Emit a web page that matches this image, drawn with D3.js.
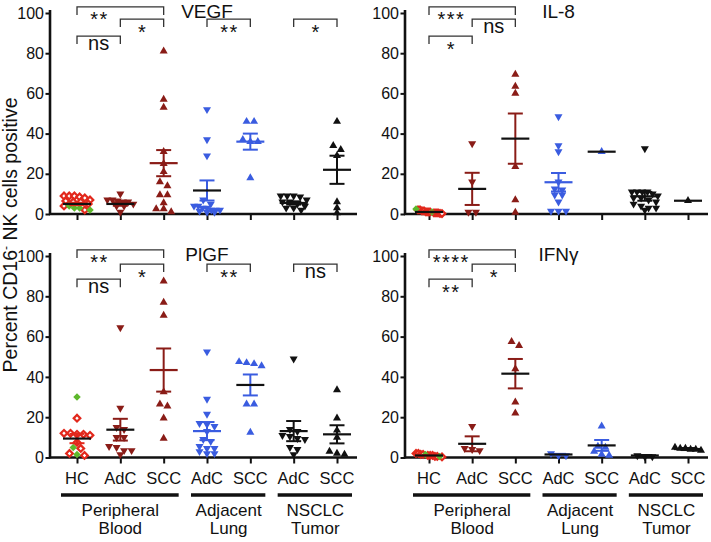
<!DOCTYPE html>
<html><head><meta charset="utf-8">
<script src="https://cdn.jsdelivr.net/npm/d3@7"></script>
<style>
body{margin:0;background:#fff}
svg{display:block;font-family:"Liberation Sans",Arial,sans-serif}
</style>
</head><body>
<svg id="c" width="711" height="542"></svg>
<script>
// ---------------- DATA ----------------
const categories = ["HC","AdC","SCC","AdC","SCC","AdC","SCC"];
const groupNames = [["Peripheral","Blood"],["Adjacent","Lung"],["NSCLC","Tumor"]];
const groupSpans = [[0,2],[3,4],[5,6]];
const yTicks = [0,20,40,60,80,100];
const bracketLevelsTop = [103, 97, 88.5];
const bracketLevelsBottom = [103, 96, 88.5];

// VEGF
const vegfHCgreen = [4, 3, 3, 2];
const vegfValues = [
  [9, 9, 9, 8.5, 8, 7, 6.5, 6, 6, 5, 4, 2],
  [10, 7, 7, 6.5, 6, 6, 5, 4, 4, 1],
  [81, 57, 53, 31, 25, 21, 16, 14, 9.5, 9.5, 5.5, 2.5, 2.5, 1],
  [52, 37, 29, 7, 5, 4, 4, 3, 3, 2, 2, 2, 1.5, 1, 1],
  [46, 46, 37, 36, 36, 18],
  [9, 9, 9, 8.5, 7, 6, 6, 5, 4, 3, 3, 2],
  [46, 34, 32, 29, 6, 3, 0.5]
];
const vegfMean = [5, 5, 25.3, 11.7, 36, 5.5, 22];
const vegfSEM  = [0.6, 0.9, 6.5, 5, 4, 0.8, 7];
const vegfBrackets = [[0,2,"**",0],[1,2,"*",1],[0,1,"ns",2],[3,4,"**",1],[5,6,"*",1]];

// IL-8
const il8HCgreen = [2.5, 1];
const il8Values = [
  [2, 2, 1.5, 1.5, 1, 1, 1, 0.5, 0.5, 0.5, 0.3, 0.2],
  [35, 16, 1, 1],
  [69.5, 63.5, 60, 23.5, 7, 0.8],
  [48.5, 34, 31, 16, 12.5, 12, 9.5, 9.5, 6, 1.5, 1.5, 1.5],
  [31],
  [32.5, 11, 11, 11, 11, 10, 9, 8, 8, 7, 6, 5, 4, 3, 3, 2],
  [6.6]
];
const il8Mean = [1, 12.5, 37.5, 15.8, 31, 8.8, 6.6];
const il8SEM  = [0.2, 8, 12.5, 4.6, 0, 2.2, 0];
const il8Brackets = [[0,2,"***",0],[1,2,"ns",1],[0,1,"*",2]];

// PlGF
const plgfHCgreen = [30, 5, 1.5];
const plgfValues = [
  [19.5, 12, 12, 11.5, 11.5, 11, 7.5, 4.5, 2, 1],
  [64.5, 24.5, 15, 14, 10, 10, 5.5, 5, 3.5, 3.5, 1.5],
  [87.5, 77, 70.5, 32.5, 26.5, 25.5, 19.5, 9.5],
  [52.5, 29, 21.5, 17, 16.5, 15.5, 13, 9, 8, 5.5, 4.5, 4.5, 3, 2, 2],
  [47.5, 47, 46.5, 45.5, 26.5, 26.5, 12.5],
  [49, 14, 13, 11, 10.5, 9.5, 9, 5, 4, 1.5],
  [33.5, 19.5, 13.5, 10, 3, 2, 1.5]
];
const plgfMean = [9.4, 13.8, 43.4, 13.1, 36, 13.1, 11.5];
const plgfSEM  = [2.3, 5.4, 10.7, 4.5, 5.2, 5, 4.5];
const plgfBrackets = [[0,2,"**",0],[1,2,"*",1],[0,1,"ns",2],[3,4,"**",1],[5,6,"ns",1]];

// IFN-gamma
const ifngHCgreen = [1.5, 0.5];
const ifngValues = [
  [2, 2, 1.5, 1.5, 1, 1, 1, 0.5, 0.5, 0.3],
  [15.5, 4.5, 4, 3.5],
  [57.5, 55.5, 44, 27.5, 22],
  [2, 1, 1],
  [15.5, 5.5, 5, 3, 1.5, 1],
  [1, 0.5, 0.5],
  [5, 4.5, 4.5, 4, 4, 3.5]
];
const ifngMean = [1, 6.8, 41.6, 1.5, 6, 1, 4.2];
const ifngSEM  = [0.2, 3.7, 7.3, 0.3, 2.7, 0.2, 0.5];
const ifngBrackets = [[0,2,"****",0],[1,2,"*",1],[0,1,"**",2]];

// ---------------- STYLE / LAYOUT ----------------
const panels = [
  {title:"VEGF", values:vegfValues, green:vegfHCgreen, mean:vegfMean, sem:vegfSEM, brackets:vegfBrackets, col:0, row:0, meanColored:[2,4]},
  {title:"IL-8", values:il8Values, green:il8HCgreen, mean:il8Mean, sem:il8SEM, brackets:il8Brackets, col:1, row:0, meanColored:[3]},
  {title:"PlGF", values:plgfValues, green:plgfHCgreen, mean:plgfMean, sem:plgfSEM, brackets:plgfBrackets, col:0, row:1, meanColored:[2,3]},
  {title:"IFNγ", values:ifngValues, green:ifngHCgreen, mean:ifngMean, sem:ifngSEM, brackets:ifngBrackets, col:1, row:1, meanColored:[]}
];
const colGeom = [{axisX:50, x0:77, x1:337, end:357},{axisX:405, x0:429, x1:688, end:708}];
const rowGeom = [
  {y0:214, y100:13, title:18, levels:bracketLevelsTop},
  {y0:457.5, y100:256, title:260.5, levels:bracketLevelsBottom}
];
const RED = "#e2281c", DRED = "#8a1c17", BLUE = "#3a5ce0", BLK = "#111", GREEN = "#5db82c";
const groupColor = [RED, DRED, DRED, BLUE, BLUE, BLK, BLK];
const groupShape = ["diamond","down","up","down","up","down","up"];

const svg = d3.select("#c");
const INK = "#111";

const symTri = d3.symbol().type(d3.symbolTriangle).size(28);
const symSq = d3.symbol().type(d3.symbolSquare).size(28);
const symOpen = d3.symbol().type(d3.symbolSquare).size(22);

function spread(points, y) {
  const sorted = points.slice().sort((a,b)=>b.v-a.v);
  const rows = [];
  sorted.forEach(p => {
    const py = y(p.v);
    const last = rows[rows.length-1];
    if (last && Math.abs(py - last.y0) < 5) last.pts.push(p);
    else rows.push({y0:py, pts:[p]});
  });
  rows.forEach(r => {
    const n = r.pts.length;
    const sp = n > 1 ? Math.min(7.5, 26/(n-1)) : 0;
    r.pts.forEach((p,i) => { p.dx = (i-(n-1)/2)*sp; });
  });
  return sorted;
}

panels.forEach(p => {
  const g = colGeom[p.col], r = rowGeom[p.row];
  const x = d3.scalePoint().domain(d3.range(categories.length)).range([g.x0, g.x1]);
  const y = d3.scaleLinear().domain([0,100]).range([r.y0, r.y100]);

  // title
  svg.append("text").attr("x", (g.x0+g.x1)/2).attr("y", r.title)
    .attr("text-anchor","middle").attr("font-size",19).attr("fill",INK).text(p.title);

  // y axis
  const ya = svg.append("g").attr("transform",`translate(${g.axisX},0)`)
    .call(d3.axisLeft(y).tickValues(yTicks).tickSize(4.5).tickPadding(1.5).tickSizeOuter(0));
  ya.select(".domain").attr("stroke",INK).attr("stroke-width",2.6).attr("d",`M0,${r.y0+1}V${r.y100-3}`);
  ya.selectAll(".tick line").attr("stroke",INK).attr("stroke-width",2);
  ya.selectAll(".tick text").attr("font-size",16).attr("fill",INK)
    .attr("font-family",'"Liberation Sans",Arial,sans-serif');

  // x axis
  const xa = svg.append("g").attr("transform",`translate(0,${r.y0})`)
    .call(d3.axisBottom(x).tickSize(6).tickSizeOuter(0).tickFormat(""));
  xa.select(".domain").attr("stroke",INK).attr("stroke-width",2.6).attr("d",`M${g.axisX-1},0H${g.end}`);
  xa.selectAll(".tick line").attr("stroke",INK).attr("stroke-width",2);

  if (p.row === 1) {
    categories.forEach((c,i) => {
      svg.append("text").attr("x", x(i)).attr("y", 484).attr("text-anchor","middle")
        .attr("font-size",16.5).attr("fill",INK).text(c);
    });
    groupSpans.forEach((s,k) => {
      svg.append("line").attr("x1", x(s[0])-16).attr("x2", x(s[1])+15)
        .attr("y1",495).attr("y2",495).attr("stroke",INK).attr("stroke-width",3.5);
      const cx = (x(s[0])+x(s[1]))/2;
      svg.append("text").attr("x",cx).attr("y",516).attr("text-anchor","middle")
        .attr("font-size",17).attr("fill",INK).text(groupNames[k][0]);
      svg.append("text").attr("x",cx).attr("y",534).attr("text-anchor","middle")
        .attr("font-size",17).attr("fill",INK).text(groupNames[k][1]);
    });
  }

  // points
  const pg = svg.append("g");
  p.values.forEach((vals,i) => {
    let pts = vals.map(v => ({v, kind: groupShape[i], color: groupColor[i]}));
    if (i === 0) pts = pts.concat(p.green.map(v => ({v, kind:"green", color: GREEN})));
    const laid = spread(pts, y);
    laid.sort((a,b) => (a.kind==="green") - (b.kind==="green"));
    laid.forEach(pt => {
      const cx = x(i) + pt.dx, cy = y(pt.v);
      if (pt.kind === "up" || pt.kind === "down") {
        pg.append("path").attr("d", symTri())
          .attr("transform", `translate(${cx},${cy})` + (pt.kind==="down" ? " rotate(180)" : ""))
          .attr("fill", pt.color);
      } else if (pt.kind === "diamond") {
        pg.append("path").attr("d", symOpen())
          .attr("transform", `translate(${cx},${cy}) rotate(45)`)
          .attr("fill","#fff").attr("stroke", pt.color).attr("stroke-width",2.2);
      } else {
        pg.append("path").attr("d", symSq())
          .attr("transform", `translate(${cx},${cy}) rotate(45)`)
          .attr("fill", pt.color);
      }
    });
  });

  // mean and SEM
  const mg = svg.append("g");
  p.mean.forEach((m,i) => {
    const s = p.sem[i], c = groupColor[i];
    if (s > 0) {
      mg.append("line").attr("x1",x(i)).attr("x2",x(i)).attr("y1",y(m-s)).attr("y2",y(m+s))
        .attr("stroke",c).attr("stroke-width",2);
      [m-s, m+s].forEach(v => {
        mg.append("line").attr("x1",x(i)-7.5).attr("x2",x(i)+7.5).attr("y1",y(v)).attr("y2",y(v))
          .attr("stroke",c).attr("stroke-width",2);
      });
    }
    mg.append("line").attr("x1",x(i)-14).attr("x2",x(i)+14).attr("y1",y(m)).attr("y2",y(m))
      .attr("stroke", p.meanColored.includes(i) ? c : INK).attr("stroke-width",2.2);
  });

  // significance brackets
  const bg = svg.append("g");
  p.brackets.forEach(([a,b,label,lvl]) => {
    const yy = y(r.levels[lvl]);
    bg.append("path").attr("d",`M${x(a)},${yy+8}V${yy}H${x(b)}V${yy+8}`)
      .attr("fill","none").attr("stroke","#333").attr("stroke-width",1.3);
    const lx = (lvl===0 && b-a>1) ? (x(a)+x(a+1))/2 : (x(a)+x(b))/2;
    const stars = label.includes("*");
    const t = bg.append("text").attr("x",lx).attr("y", yy + (stars ? 19.5 : 13.5))
      .attr("text-anchor","middle").attr("font-size", 20).attr("fill",INK).text(label);
    if (stars) t.attr("letter-spacing", 1.5).attr("dx", 0.75);
  });
});

// y-axis label
const yl = svg.append("text").attr("transform","translate(17,235) rotate(-90)")
  .attr("text-anchor","middle").attr("font-size",19.5).attr("fill",INK);
yl.append("tspan").text("Percent CD16");
yl.append("tspan").attr("font-size",12).attr("dy",-7).text("-");
yl.append("tspan").attr("dy",7).text(" NK cells positive");
</script>
</body></html>
